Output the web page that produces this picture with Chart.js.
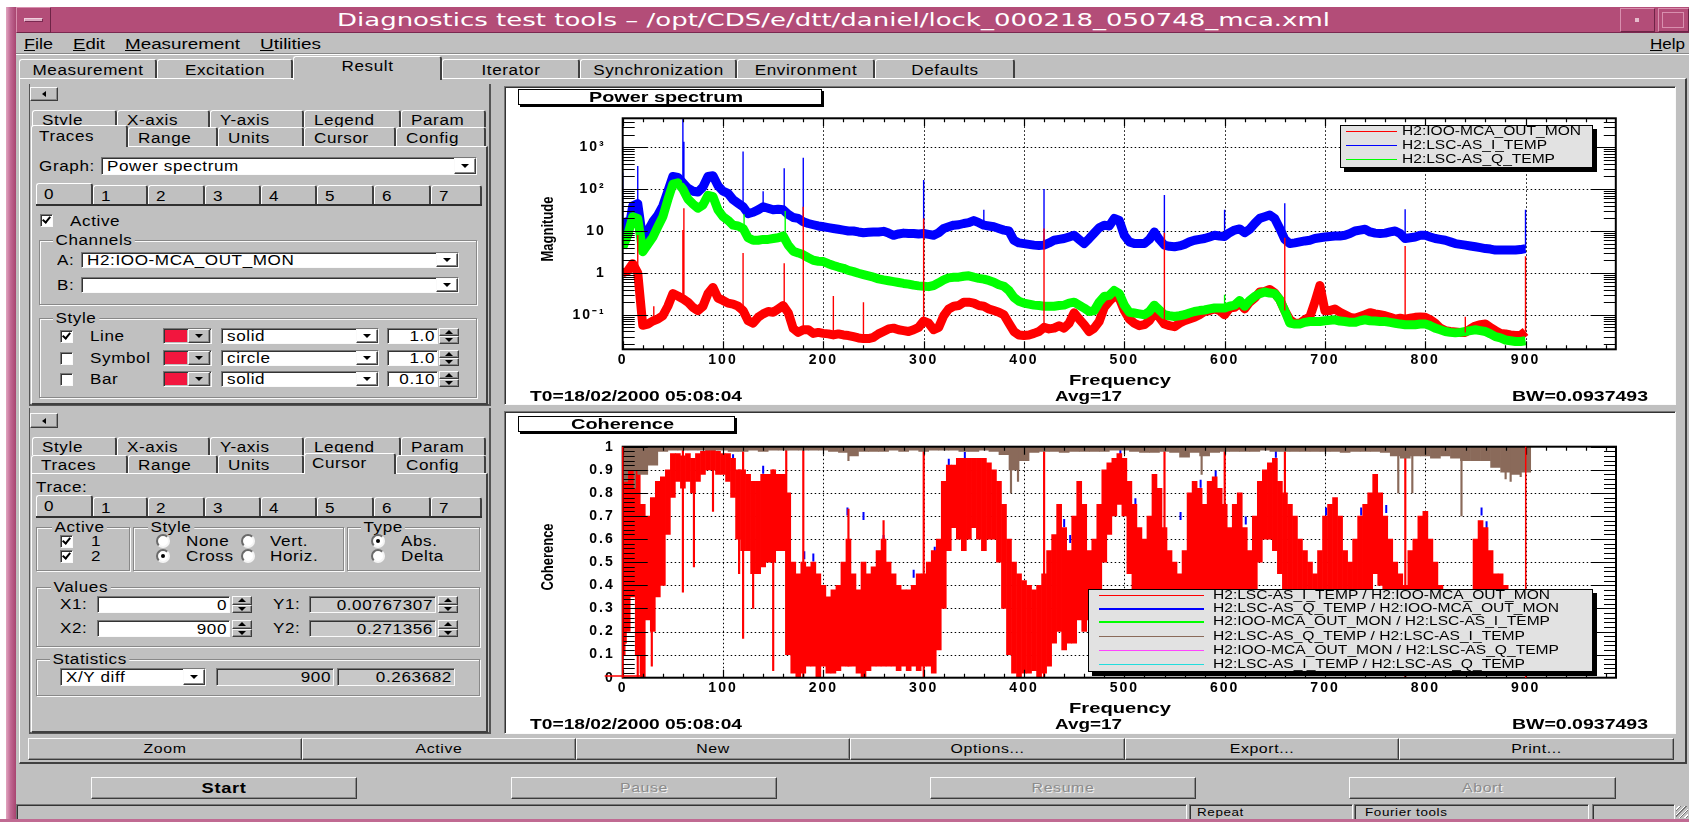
<!DOCTYPE html>
<html><head><meta charset="utf-8"><title>Diagnostics test tools</title>
<script src="https://cdn.jsdelivr.net/npm/chart.js@4.4.1/dist/chart.umd.min.js"></script>
<style>
html,body{margin:0;padding:0}
body{width:1689px;height:822px;position:relative;overflow:hidden;background:#c0c0c0;font:14px "Liberation Sans",Arial,sans-serif;letter-spacing:0.5px;color:#000}
.a{position:absolute;box-sizing:border-box}
.up{border:1px solid;border-color:#fafafa #3c3c3c #3c3c3c #fafafa;box-shadow:inset -1px -1px 0 #8a8a8a}
.dn{border:1px solid;border-color:#777 #fafafa #fafafa #777;box-shadow:inset 1px 1px 0 #333}
.grp{border:1px solid #888;box-shadow:1px 1px 0 #fafafa,inset 1px 1px 0 #fafafa}
.t{position:absolute;white-space:nowrap;line-height:16px;height:16px;transform-origin:left center;transform:scaleX(1.22)}
canvas{position:absolute;z-index:1}
</style></head><body>
<canvas id="psd" width="1171" height="318" style="left:504px;top:87px;width:1171px;height:318px"></canvas>
<canvas id="coh" width="1171" height="321" style="left:504px;top:412px;width:1171px;height:321px"></canvas>
<script>
// ================= DATA =================
// frequency grids (Hz)
const freqs = Array.from({length: 181}, (_, i) => i * 5);
const freqs10 = Array.from({length: 91}, (_, i) => i * 10);
const freqTicks = [0, 100, 200, 300, 400, 500, 600, 700, 800, 900];

// Power spectrum magnitudes (read every 5 Hz, 0..900 Hz)
const psdRed = [
 1.0,1.12,1.66,1.0,0.056,0.06,0.071,0.079,0.095,0.16,
 0.32,0.28,0.24,0.2,0.15,0.126,0.16,0.32,0.45,0.25,
 0.22,0.19,0.18,0.16,0.126,0.072,0.063,0.087,0.105,0.12,
 0.115,0.138,0.166,0.112,0.047,0.038,0.044,0.044,0.036,0.038,
 0.036,0.035,0.033,0.035,0.033,0.032,0.03,0.028,0.027,0.027,
 0.029,0.035,0.04,0.046,0.048,0.044,0.042,0.04,0.044,0.05,
 0.071,0.063,0.044,0.05,0.095,0.138,0.16,0.166,0.2,0.2,
 0.19,0.166,0.16,0.138,0.126,0.115,0.1,0.063,0.04,0.033,
 0.032,0.033,0.036,0.04,0.05,0.046,0.048,0.055,0.048,0.063,
 0.112,0.079,0.058,0.04,0.048,0.069,0.15,0.21,0.275,0.25,
 0.126,0.079,0.063,0.055,0.058,0.072,0.11,0.087,0.06,0.055,
 0.052,0.063,0.072,0.079,0.087,0.1,0.12,0.126,0.138,0.126,
 0.1,0.145,0.15,0.19,0.138,0.2,0.25,0.35,0.36,0.4,
 0.33,0.23,0.126,0.076,0.063,0.063,0.076,0.089,0.2,0.5,
 0.126,0.126,0.138,0.115,0.1,0.087,0.083,0.091,0.1,0.112,
 0.105,0.1,0.095,0.087,0.079,0.083,0.079,0.083,0.087,0.089,
 0.087,0.076,0.063,0.048,0.042,0.04,0.039,0.038,0.038,0.046,
 0.054,0.058,0.06,0.05,0.042,0.036,0.035,0.033,0.032,0.032,
 0.04];
const psdBlue = [
 20,7.9,40,45,6.3,10,16.6,24,40,89,
 200,190,141,105,89,85,112,200,209,120,
 89,79,56,46,38,26,28,32,38,35,
 32,33,32,25,21,20,16.6,15.1,14.1,13.2,
 12.6,12,11.5,11,10.5,10,10,9.5,9.1,9.3,
 9.5,9.5,9.8,8.9,7.9,8.5,8.9,8.7,8.7,8.5,
 8.7,8.3,7.9,9.1,11.5,12.6,13.8,14.1,15.1,15.8,
 17.8,15.8,13.8,13.2,12.6,11.5,10.5,10,6.0,5.2,
 5.0,4.8,4.6,4.5,4.6,5.2,6.0,6.3,6.6,7.2,
 7.9,6.3,5.0,6.6,8.9,12,13.8,13.2,20,17.8,
 7.9,5.5,5.0,5.0,5.0,6.3,9.5,6.3,4.6,4.3,
 4.2,4.4,4.8,5.5,6.0,6.3,6.6,7.2,7.9,7.6,
 7.4,9.1,10.5,11.2,9.1,11,15.1,20,21.9,24,
 20,11.5,6.3,5.0,5.2,5.5,5.8,6.0,6.6,6.9,
 7.2,7.4,7.6,7.6,7.9,8.7,10,10.5,11,9.5,
 8.9,8.7,8.9,9.5,10,8.7,6.6,6.9,7.2,7.9,
 7.9,7.2,6.6,6.3,6.0,5.5,5.0,4.8,4.6,4.4,
 4.2,4.0,3.8,3.7,3.5,3.5,3.5,3.5,3.5,3.6,
 3.8];
const psdGreen = [
 4.0,7.9,22,20,3.2,4.8,7.1,12.6,22,56,
 132,141,100,58,44,35,42,71,66,32,
 22,18,13.8,13.2,11.5,6.9,6.0,6.0,6.3,6.3,
 6.6,6.9,7.6,4.6,3.3,3.0,2.7,2.3,2.0,1.9,
 1.86,1.66,1.5,1.38,1.29,1.15,1.07,0.98,0.91,0.85,
 0.79,0.72,0.68,0.65,0.62,0.59,0.56,0.54,0.51,0.49,
 0.48,0.47,0.5,0.58,0.68,0.76,0.79,0.79,0.83,0.85,
 0.79,0.74,0.71,0.66,0.6,0.52,0.48,0.38,0.26,0.21,
 0.19,0.18,0.17,0.166,0.16,0.16,0.16,0.166,0.17,0.19,
 0.2,0.17,0.145,0.12,0.126,0.2,0.275,0.29,0.38,0.32,
 0.17,0.115,0.11,0.105,0.1,0.12,0.17,0.13,0.1,0.095,
 0.091,0.095,0.1,0.11,0.12,0.126,0.13,0.138,0.145,0.145,
 0.145,0.16,0.17,0.22,0.16,0.22,0.275,0.32,0.35,0.33,
 0.32,0.23,0.126,0.063,0.06,0.06,0.066,0.069,0.069,0.069,
 0.072,0.074,0.076,0.071,0.069,0.066,0.066,0.072,0.076,0.072,
 0.071,0.069,0.069,0.066,0.063,0.06,0.058,0.058,0.058,0.06,
 0.06,0.055,0.048,0.044,0.04,0.038,0.037,0.038,0.04,0.042,
 0.044,0.042,0.04,0.035,0.03,0.028,0.025,0.024,0.023,0.023,
 0.024];
// narrow line peaks (frequency, peak magnitude)
const psdBlueSpikeF = [0, 15, 60, 61, 120, 140, 161, 180, 300, 360, 420, 540, 600, 660, 780, 900];
const psdBlueSpikeV = [250, 355, 5000, 1350, 790, 89, 316, 560, 166, 32, 100, 72, 32, 46, 33, 32];
const psdRedSpikeF = [15, 31, 60, 61, 120, 161, 180, 210, 240, 300, 420, 540, 660, 780, 840, 900];
const psdRedSpikeV = [8, 0.16, 10.5, 35, 3.0, 1.7, 38, 0.28, 0.2, 20, 11.5, 9.1, 6.9, 4.4, 0.09, 2.5];
const psdGreenSpikeF = [121, 162, 600];
const psdGreenSpikeV = [25, 30, 0.3];
const magTicks = [0.1, 1, 10, 100, 1000];
const magTickLabels = ['10\u207B\u00B9', '1', '10', '10\u00B2', '10\u00B3'];

// Coherence: red trace band (upper / lower envelope every 5 Hz)
const cohRedHi = [
 1.0,1.0,1.0,1.0,0.75,0.7,0.78,0.85,0.87,0.9,
 0.97,0.97,0.96,0.97,0.95,0.97,0.98,0.99,0.99,0.98,
 0.97,0.97,0.95,0.9,0.9,0.88,0.85,0.85,0.88,0.88,
 0.9,0.88,0.88,0.8,0.5,0.45,0.5,0.48,0.5,0.45,
 0.4,0.35,0.38,0.4,0.5,0.6,0.45,0.38,0.5,0.45,
 0.48,0.55,0.6,0.5,0.45,0.4,0.38,0.38,0.4,0.45,
 0.45,0.5,0.55,0.6,0.85,0.92,0.92,0.95,0.95,0.95,
 0.95,0.95,0.95,0.93,0.9,0.85,0.75,0.6,0.5,0.45,
 0.42,0.4,0.38,0.4,0.45,0.55,0.62,0.75,0.65,0.55,
 0.7,0.85,0.75,0.55,0.6,0.75,0.9,0.93,0.95,0.97,
 0.95,0.85,0.75,0.65,0.6,0.7,0.88,0.82,0.65,0.55,
 0.5,0.45,0.55,0.8,0.85,0.82,0.75,0.85,0.87,0.82,
 0.75,0.65,0.75,0.8,0.65,0.55,0.7,0.85,0.9,0.93,
 0.95,0.85,0.8,0.75,0.7,0.6,0.55,0.5,0.45,0.55,
 0.7,0.75,0.78,0.7,0.55,0.5,0.6,0.7,0.75,0.8,
 0.88,0.8,0.7,0.6,0.5,0.45,0.4,0.55,0.6,0.7,
 0.72,0.6,0.5,0.4,0.35,0.3,0.28,0.25,0.3,0.35,
 0.6,0.68,0.65,0.55,0.45,0.45,0.4,0.3,0.2,0.15,
 0.1];
const cohRedLo = [
 0.1,0.2,0.35,0.1,0.0,0.25,0.2,0.35,0.4,0.62,
 0.78,0.85,0.82,0.85,0.8,0.85,0.88,0.9,0.9,0.88,
 0.88,0.85,0.78,0.6,0.55,0.55,0.45,0.45,0.48,0.5,
 0.5,0.55,0.55,0.1,0.02,0.0,0.02,0.05,0.05,0.0,
 0.05,0.02,0.02,0.03,0.05,0.05,0.05,0.02,0.0,0.03,
 0.05,0.05,0.05,0.05,0.05,0.03,0.05,0.03,0.05,0.03,
 0.05,0.05,0.02,0.12,0.3,0.55,0.65,0.6,0.55,0.6,
 0.65,0.6,0.55,0.6,0.6,0.5,0.3,0.1,0.02,0.0,
 0.02,0.02,0.03,0.0,0.02,0.05,0.15,0.2,0.12,0.15,
 0.15,0.25,0.2,0.25,0.1,0.3,0.5,0.62,0.7,0.75,
 0.7,0.45,0.3,0.2,0.15,0.2,0.3,0.35,0.2,0.15,
 0.12,0.1,0.12,0.3,0.35,0.25,0.2,0.3,0.3,0.2,
 0.12,0.1,0.2,0.3,0.15,0.1,0.25,0.5,0.6,0.6,
 0.55,0.45,0.35,0.3,0.2,0.15,0.1,0.05,0.03,0.05,
 0.2,0.3,0.25,0.2,0.1,0.05,0.1,0.2,0.3,0.35,
 0.45,0.4,0.3,0.2,0.1,0.05,0.02,0.1,0.15,0.2,
 0.2,0.1,0.05,0.02,0.02,0.02,0.02,0.02,0.02,0.03,
 0.1,0.2,0.2,0.1,0.05,0.03,0.02,0.02,0.01,0.01,
 0.01];
// narrow red lines (frequency, low end, high end)
const cohSpikeF  = [3, 15, 18, 29, 60, 71, 90, 116, 120, 130, 150, 163, 180, 225, 260, 300, 420, 540, 600, 660, 780];
const cohSpikeLo = [0.15, 0.0, 0.02, 0.05, 0.37, 0.48, 0.72, 0.45, 0.17, 0.3, 0.03, 0.1, 0.0, 0.05, 0.1, 0.0, 0.0, 0.05, 0.05, 0.1, 0.0];
const cohSpikeHi = [1.0, 0.4, 0.7, 0.4, 1.0, 0.95, 0.99, 0.9, 1.0, 0.85, 0.9, 1.0, 1.0, 0.73, 0.68, 1.0, 1.0, 1.0, 1.0, 1.0, 1.0];
// blue trace: visible peaks above the red trace
const cohBlueF = [5, 9, 14, 45, 110, 121, 140, 181, 190, 224, 240, 260, 290, 311, 325, 341, 440, 446, 496, 511, 556, 576, 591, 621, 651, 701, 736, 761, 856, 861];
const cohBlueV = [0.95, 0.9, 0.82, 0.88, 0.95, 0.88, 0.9, 0.53, 0.52, 0.72, 0.7, 0.6, 0.45, 0.55, 0.93, 0.96, 0.67, 0.6, 0.98, 0.76, 0.7, 0.84, 0.88, 0.68, 0.97, 0.72, 0.72, 0.73, 0.72, 0.66];
// brown trace: lower edge every 10 Hz (upper edge at coherence 1)
const cohMax = 1;
const cohBrownLo = [
 0.85,0.9,0.88,0.92,0.98,0.985,0.985,0.985,0.985,0.985,
 0.985,0.98,0.98,0.985,0.98,0.985,0.985,0.985,0.985,0.985,
 0.985,0.98,0.975,0.96,0.98,0.98,0.98,0.985,0.98,0.985,
 0.98,0.985,0.985,0.985,0.98,0.98,0.985,0.98,0.965,0.9,
 0.94,0.975,0.98,0.98,0.975,0.98,0.98,0.98,0.98,0.985,
 0.985,0.98,0.975,0.975,0.98,0.975,0.955,0.975,0.96,0.975,
 0.98,0.98,0.98,0.98,0.985,0.98,0.98,0.98,0.98,0.98,
 0.98,0.98,0.975,0.98,0.98,0.98,0.975,0.96,0.95,0.96,
 0.96,0.95,0.96,0.95,0.94,0.94,0.94,0.91,0.89,0.88,
 0.89];
const cohBrownDipF  = [12, 225, 387, 394, 577, 773, 787, 836, 880, 885, 895];
const cohBrownDipLo = [0.82, 0.94, 0.8, 0.85, 0.88, 0.8, 0.8, 0.7, 0.86, 0.85, 0.87];
const cohTicks = [0, 0.1, 0.2, 0.3, 0.4, 0.5, 0.6, 0.7, 0.8, 0.9, 1];
const cohTickLabels = ['0', '0.1', '0.2', '0.3', '0.4', '0.5', '0.6', '0.7', '0.8', '0.9', '1'];
// cursor positions (from the Cursor panel)
const cursorX = [0, 900];
const cursorY = [0.00767307, 0.271356];

// ================= GUI CHROME =================
const B = document.body;
function el(cls, x, y, w, h, css, z) {
  const d = document.createElement('div');
  d.className = 'a ' + (cls || '');
  d.style.left = x + 'px'; d.style.top = y + 'px'; d.style.width = w + 'px'; d.style.height = h + 'px';
  if (z) d.style.zIndex = z;
  Object.assign(d.style, css || {});
  B.appendChild(d); return d;
}
// stretch a text horizontally so that it spans w pixels (the reference is a widened screen capture)
function fit(d, w) {
  d.style.letterSpacing = '0px';
  d.style.transform = 'none';
  const w0 = d.getBoundingClientRect().width;
  d.style.transformOrigin = 'left center';
  d.style.transform = 'scaleX(' + (w / w0) + ')';
}
function txt(s, x, yc, css, fw, z, html) {
  const d = document.createElement('div'); d.className = 't';
  if (html) d.innerHTML = html; else d.textContent = s;
  d.style.left = x + 'px'; d.style.top = (yc - 8) + 'px';
  if (z) d.style.zIndex = z;
  Object.assign(d.style, css || {}); B.appendChild(d);
  if (fw) fit(d, fw);
  return d;
}
function ctxt(s, x1, x2, yc, css, z) {
  return txt(s, x1, yc, Object.assign({width: (x2 - x1) + 'px', textAlign: 'center', transformOrigin: 'center center'}, css || {}), 0, z);
}
function rtxt(s, xr, yc, css) {
  return txt(s, xr - 200, yc, Object.assign({width: '200px', textAlign: 'right', transformOrigin: 'right center'}, css || {}));
}
function tri(cx, cy, dir) {
  const s = {boxSizing: 'content-box', width: '0px', height: '0px'};
  if (dir === 'down') Object.assign(s, {borderLeft: '4px solid transparent', borderRight: '4px solid transparent', borderTop: '4px solid #000'});
  if (dir === 'up') Object.assign(s, {borderLeft: '4px solid transparent', borderRight: '4px solid transparent', borderBottom: '4px solid #000'});
  if (dir === 'left') Object.assign(s, {borderTop: '3px solid transparent', borderBottom: '3px solid transparent', borderRight: '4px solid #000'});
  const d = el('', 0, 0, 0, 0, s);
  if (dir === 'left') { d.style.left = (cx - 2) + 'px'; d.style.top = (cy - 3) + 'px'; }
  else { d.style.left = (cx - 4) + 'px'; d.style.top = (cy - 2) + 'px'; }
}
function ddbtn(x, y, w, h) { el('up', x, y, w, h); tri(x + w / 2, y + h / 2, 'down'); }
function combo(x1, x2, y1, y2, text, bg) {
  el('dn', x1, y1, x2 - x1, y2 - y1, {background: bg || '#fff'});
  if (text) txt(text, x1 + 6, (y1 + y2) / 2);
  ddbtn(x2 - 23, y1 + 1, 22, y2 - y1 - 2);
}
function spin(x, y1, y2) {
  const h = (y2 - y1) / 2;
  el('up', x, y1, 20, h); tri(x + 10, y1 + h / 2, 'up');
  el('up', x, y1 + h, 20, h); tri(x + 10, y1 + h + h / 2, 'down');
}
function checkbox(x, yc, on) {
  el('dn', x, yc - 6.5, 13, 13, {background: '#fff'});
  if (on) el('', x + 4, yc - 5.5, 5, 8, {borderRight: '2px solid #000', borderBottom: '2px solid #000', transform: 'rotate(40deg)'});
}
function radio(x, yc, on) {
  el('', x, yc - 7, 14, 14, {borderRadius: '50%', background: '#fff', border: '2px solid', borderColor: '#6a6a6a #f4f4f4 #f4f4f4 #6a6a6a'});
  if (on) el('', x + 5, yc - 2, 4, 4, {borderRadius: '50%', background: '#000'});
}
function group(x, y, w, h, label, lx) {
  el('grp', x, y, w, h);
  txt(label, lx, y, {background: '#c0c0c0', padding: '0 2px'});
}
function btn(x1, x2, y1, y2, label, css) {
  el('up', x1, y1, x2 - x1, y2 - y1);
  ctxt(label, x1, x2, (y1 + y2) / 2, css);
}
const tabCss = {borderTop: '1px solid #fff', borderLeft: '1px solid #fff', borderRight: '2px solid #404040', borderRadius: '3px 3px 0 0'};

// window frame & title bar
el('', 0, 0, 1689, 7, {background: '#fff'});
el('', 0, 0, 6, 822, {background: '#fff'});
el('', 6, 7, 10, 815, {background: 'linear-gradient(90deg,#e2a6c0 0,#c06892 45%,#a84470 100%)'});
el('', 16, 7, 1673, 26, {background: '#b34d78', borderBottom: '1px solid #7a2850'});
el('', 16, 7, 35, 26, {border: '1px solid', borderColor: '#d88fae #6e2446 #6e2446 #d88fae'});
el('', 24, 18, 19, 4, {background: '#dca6bf', border: '1px solid', borderColor: '#f0d0de #7a2850 #7a2850 #f0d0de'});
txt('Diagnostics test tools \u2013 /opt/CDS/e/dtt/daniel/lock_000218_050748_mca.xml', 337, 20,
    {font: '18px "DejaVu Sans",sans-serif', color: '#fff', lineHeight: '22px', height: '22px', top: '9px'}, 993);
el('', 1620, 8, 35, 24, {border: '1px solid', borderColor: '#d88fae #6e2446 #6e2446 #d88fae'});
el('', 1635, 18, 4, 4, {background: '#e6bccd'});
el('', 1658, 8, 31, 24, {border: '1px solid', borderColor: '#d88fae #6e2446 #6e2446 #d88fae'});
el('', 1662, 12, 22, 16, {border: '1px solid #d88fae'});

// menu bar
[['File', 24, 29, '<u>F</u>ile'], ['Edit', 73, 32, '<u>E</u>dit'], ['Measurement', 125, 115, '<u>M</u>easurement'],
 ['Utilities', 260, 61, '<u>U</u>tilities'], ['Help', 1650, 35, '<u>H</u>elp']].forEach(m => txt(m[0], m[1], 44, null, m[2], 0, m[3]));
el('', 16, 53, 1673, 2, {borderTop: '1px solid #888', borderBottom: '1px solid #fff'});

// main notebook frame + tabs
el('', 19, 78, 1668, 686, {borderTop: '1px solid #fff', borderLeft: '1px solid #fff', borderRight: '2px solid #404040', borderBottom: '2px solid #404040'});
const topTabs = ['Measurement', 'Excitation', 'Result', 'Iterator', 'Synchronization', 'Environment', 'Defaults'];
const topEdges = [19, 157, 293, 442, 580, 737, 875, 1015];
topTabs.forEach((s, i) => {
  const sel = i === 2, x1 = topEdges[i], x2 = topEdges[i + 1];
  if (sel) el('', x1, 56, x2 - x1, 24, Object.assign({background: '#c0c0c0'}, tabCss));
  else el('', x1, 59, x2 - x1, 19, tabCss);
  ctxt(s, x1, x2, sel ? 66 : 69.5);
});

// left column frames
el('', 29, 84, 462, 322, {borderLeft: '1px solid #555', borderRight: '2px solid #555', borderBottom: '2px solid #555'});
el('', 29, 408, 462, 326, {borderLeft: '1px solid #555', borderRight: '2px solid #555', borderBottom: '2px solid #555'});

function subTabs(yA, yB, yC, bottom, sel) {
  const r1 = ['Style', 'X-axis', 'Y-axis', 'Legend', 'Param'], e1 = [32, 117, 210, 304, 401, 486];
  const r2 = ['Traces', 'Range', 'Units', 'Cursor', 'Config'], e2 = [31, 128, 218, 304, 396, 486];
  el('', 31, yC, 457, bottom - yC, {borderTop: '1px solid #fff', borderLeft: '1px solid #fff', borderRight: '2px solid #404040', borderBottom: '2px solid #404040'});
  r1.forEach((s, i) => { el('', e1[i], yA, e1[i + 1] - e1[i], yB - yA, tabCss); txt(s, e1[i] + 10, (yA + yB) / 2 + 1); });
  r2.forEach((s, i) => { if (i !== sel) { el('', e2[i], yB, e2[i + 1] - e2[i], yC - yB, tabCss); txt(s, e2[i] + 10, (yB + yC) / 2 + 1); } });
  el('', e2[sel], yB - 2, e2[sel + 1] - e2[sel], yC - yB + 3, Object.assign({background: '#c0c0c0'}, tabCss));
  txt(r2[sel], e2[sel] + 8, (yB + yC) / 2 - 1);
}
function traceTabs(y1, y2) {
  const e = [36, 93, 148, 205, 261, 317, 374, 431, 482];
  for (let i = 0; i < 8; i++) {
    const sel = i === 0;
    el('', e[i], sel ? y1 - 2 : y1, e[i + 1] - e[i], sel ? y2 - y1 + 2 : y2 - y1, tabCss);
    txt(String(i), e[i] + 8, (y1 + y2) / 2 + (sel ? -1 : 1));
  }
  el('', 36, y2 - 1, 446, 2, {background: '#303030'});
}

// ---- upper left panel (Traces)
el('up', 30, 87, 28, 14); tri(44, 94, 'left');
subTabs(110, 127, 146, 405, 0);
txt('Graph:', 39, 166);
combo(101, 477, 157, 175, 'Power spectrum');
traceTabs(185, 205);
checkbox(40, 220.5, true); txt('Active', 70, 221);
group(39, 240, 438, 65, 'Channels', 53);
txt('A:', 57, 260); combo(81, 459, 252, 268, 'H2:IOO-MCA_OUT_MON');
txt('B:', 57, 285); combo(81, 459, 277, 293, '');
group(39, 318, 438, 80, 'Style', 53);
[['Line', 'solid', '1.0', true, 336], ['Symbol', 'circle', '1.0', false, 358], ['Bar', 'solid', '0.10', false, 379]].forEach(r => {
  const yc = r[4];
  checkbox(60, yc, r[3]); txt(r[0], 90, yc);
  el('dn', 163, yc - 8, 49, 16, {background: '#c0c0c0'});
  el('', 165, yc - 6, 22, 12, {background: '#f2163e'});
  ddbtn(188, yc - 7, 22, 14);
  combo(221, 379, yc - 8, yc + 8, r[1]);
  el('dn', 387, yc - 8, 51, 16, {background: '#fff'}); rtxt(r[2], 435, yc);
  spin(439, yc - 8, yc + 8);
});

// ---- lower left panel (Cursor)
el('up', 30, 413, 28, 15); tri(44, 420.5, 'left');
subTabs(437, 455, 473, 733, 3);
txt('Trace:', 36, 487);
traceTabs(497, 517);
group(36, 527, 94, 44, 'Active', 52);
checkbox(60, 541, true); txt('1', 91, 541);
checkbox(60, 556, true); txt('2', 91, 556);
group(133, 527, 211, 44, 'Style', 148);
radio(156, 541, false); txt('None', 186, 541); radio(241, 541, false); txt('Vert.', 270, 541);
radio(156, 556, true); txt('Cross', 186, 556); radio(241, 556, false); txt('Horiz.', 270, 556);
group(347, 527, 133, 44, 'Type', 361);
radio(371, 541, true); txt('Abs.', 401, 541);
radio(371, 556, false); txt('Delta', 401, 556);
group(36, 587, 444, 60, 'Values', 51);
txt('X1:', 60, 604); el('dn', 97, 596, 133, 17, {background: '#fff'}); rtxt('0', 227, 604.5); spin(232, 596, 613);
txt('Y1:', 273, 604); el('dn', 309, 596, 127, 17, {background: '#c8c8c8'}); rtxt('0.00767307', 433, 604.5); spin(438, 596, 613);
txt('X2:', 60, 628); el('dn', 97, 620, 133, 17, {background: '#fff'}); rtxt('900', 227, 628.5); spin(232, 620, 637);
txt('Y2:', 273, 628); el('dn', 309, 620, 127, 17, {background: '#c8c8c8'}); rtxt('0.271356', 433, 628.5); spin(438, 620, 637);
group(36, 659, 444, 37, 'Statistics', 50);
combo(60, 206, 668, 686, 'X/Y diff');
el('dn', 216, 668, 118, 18, {background: '#c8c8c8'}); rtxt('900', 331, 677);
el('dn', 337, 668, 118, 18, {background: '#c8c8c8'}); rtxt('0.263682', 452, 677);

// ---- right graph panels
el('dn', 504, 86, 1172, 319, {background: '#fff'});
el('dn', 504, 411, 1172, 323, {background: '#fff'});
const bold14 = {font: 'bold 14px "Liberation Sans",Arial,sans-serif'};
function panelTexts(title, bx1, bx2, by, tw, ylab, ylabY, y0) {
  el('', bx1, by, bx2 - bx1, 16, {background: '#fff', border: '1px solid #000', boxShadow: '2px 2px 0 #000'}, 2);
  txt(title, (bx1 + bx2) / 2 - tw / 2 - 4, by + 8, bold14, tw, 3);
  txt(ylab, 547, ylabY, {font: 'bold 13px "Liberation Sans",Arial,sans-serif', letterSpacing: '0px', transformOrigin: 'center center',
      transform: 'translate(-50%,-50%) rotate(-90deg) scaleY(1.3)', top: ylabY + 'px', lineHeight: '15px', height: '15px'}, 0, 3);
  txt('Frequency', 1120 - 51, y0, bold14, 102, 3);
  txt('T0=18/02/2000 05:08:04', 530, y0 + 16, bold14, 212, 3);
  txt('Avg=17', 1055, y0 + 16, bold14, 67, 3);
  txt('BW=0.0937493', 1512, y0 + 16, bold14, 136, 3);
}
panelTexts('Power spectrum', 518, 822, 89, 154, 'Magnitude', 229, 380);
panelTexts('Coherence', 518, 735, 416, 103, 'Coherence', 557, 707.5);

function legend(x1, x2, y1, y2, rows) {
  el('', x1, y1, x2 - x1, y2 - y1, {background: '#e2e2e2', border: '1px solid #000', boxShadow: '4px 4px 0 #000'}, 2);
  rows.forEach(r => {
    el('', r.lx1, r.y - 0.75, r.lx2 - r.lx1, 1.5, {background: r.c}, 3);
    txt(r.s, r.tx, r.y, {font: '12px "Liberation Sans",Arial,sans-serif'}, r.w, 3);
  });
}
legend(1340, 1593, 125, 168, [
  {s: 'H2:IOO-MCA_OUT_MON', c: '#ff0000', y: 131.5, lx1: 1346, lx2: 1397, tx: 1402, w: 179},
  {s: 'H2:LSC-AS_I_TEMP', c: '#0000ff', y: 145.5, lx1: 1346, lx2: 1397, tx: 1402, w: 145},
  {s: 'H2:LSC-AS_Q_TEMP', c: '#00ff00', y: 159.5, lx1: 1346, lx2: 1397, tx: 1402, w: 153}]);
legend(1088, 1593, 589, 672, [
  {s: 'H2:LSC-AS_I_TEMP / H2:IOO-MCA_OUT_MON', c: '#ff0000', y: 595.5, lx1: 1099, lx2: 1204, tx: 1213, w: 337},
  {s: 'H2:LSC-AS_Q_TEMP / H2:IOO-MCA_OUT_MON', c: '#0000ff', y: 609, lx1: 1099, lx2: 1204, tx: 1213, w: 346},
  {s: 'H2:IOO-MCA_OUT_MON / H2:LSC-AS_I_TEMP', c: '#00ff00', y: 622, lx1: 1099, lx2: 1204, tx: 1213, w: 337},
  {s: 'H2:LSC-AS_Q_TEMP / H2:LSC-AS_I_TEMP', c: '#8a6a5a', y: 636.5, lx1: 1099, lx2: 1204, tx: 1213, w: 312},
  {s: 'H2:IOO-MCA_OUT_MON / H2:LSC-AS_Q_TEMP', c: '#ff44ff', y: 650.5, lx1: 1099, lx2: 1204, tx: 1213, w: 346},
  {s: 'H2:LSC-AS_I_TEMP / H2:LSC-AS_Q_TEMP', c: '#22dddd', y: 664.5, lx1: 1099, lx2: 1204, tx: 1213, w: 312}]);

// ---- bottom buttons, status bar
const bEdges = [28, 302, 576, 850, 1125, 1399, 1674];
['Zoom', 'Active', 'New', 'Options...', 'Export...', 'Print...'].forEach((s, i) => btn(bEdges[i], bEdges[i + 1], 738, 760, s, {fontSize: '13px'}));
const dis = {color: '#8c8c8c', textShadow: '1px 1px 0 #f0f0f0', fontSize: '13px'};
btn(91, 357, 777, 799, 'Start', {fontWeight: 'bold', fontSize: '15px'});
btn(511, 777, 777, 799, 'Pause', dis);
btn(930, 1196, 777, 799, 'Resume', dis);
btn(1349, 1616, 777, 799, 'Abort', dis);
const sb = {fontSize: '11px'};
el('dn', 16, 804, 1171, 16);
el('dn', 1189, 804, 164, 16); txt('Repeat', 1197, 812, sb);
el('dn', 1354, 804, 235, 16); txt('Fourier tools', 1365, 812, sb);
el('dn', 1592, 804, 83, 16);
el('', 1676, 806, 12, 12, {background: 'repeating-linear-gradient(135deg,#c0c0c0 0 2px,#fff 2px 3px,#777 3px 4px)'});
el('', 0, 819, 1689, 3, {background: '#c06a92'});

// ================= CHARTS =================
Chart.defaults.font.family = '"Liberation Sans", Arial, sans-serif';
Chart.defaults.color = '#000';
const tickFont = {family: '"Liberation Sans", Arial, sans-serif', size: 14, weight: 'bold'};

function frame(cfg) {
  return {
    id: 'rootFrame',
    beforeDraw(chart) { chart.ctx.letterSpacing = '2px'; },
    beforeDatasetsDraw(chart) {
      const {ctx, chartArea: a, scales: {x, y}} = chart;
      ctx.save();
      ctx.strokeStyle = '#000'; ctx.lineWidth = 1; ctx.setLineDash([1.5, 2.5]);
      ctx.beginPath();
      x.ticks.forEach(t => { const p = Math.round(x.getPixelForValue(t.value)) + 0.5; if (p > a.left + 3 && p < a.right - 3) { ctx.moveTo(p, a.top); ctx.lineTo(p, a.bottom); } });
      y.ticks.forEach(t => { const p = Math.round(y.getPixelForValue(t.value)) + 0.5; if (p > a.top + 3 && p < a.bottom - 3) { ctx.moveTo(a.left, p); ctx.lineTo(a.right, p); } });
      ctx.stroke(); ctx.restore();
    },
    afterDatasetsDraw(chart) {
      const {ctx, chartArea: a, scales: {x, y}} = chart;
      ctx.save(); ctx.strokeStyle = '#000'; ctx.lineWidth = 1.2; ctx.beginPath();
      for (let v = x.min; v <= x.max + 1e-9; v += cfg.xMinor) {
        const p = Math.round(x.getPixelForValue(v)) + 0.5;
        const len = (Math.abs(v % cfg.xMajor) < 1e-9) ? 8 : 4;
        ctx.moveTo(p, a.bottom); ctx.lineTo(p, a.bottom - len);
        ctx.moveTo(p, a.top); ctx.lineTo(p, a.top + len);
      }
      const tickY = (v, len) => {
        const p = Math.round(y.getPixelForValue(v)) + 0.5;
        if (p < a.top || p > a.bottom) return;
        ctx.moveTo(a.left, p); ctx.lineTo(a.left + len, p);
        ctx.moveTo(a.right, p); ctx.lineTo(a.right - len, p);
      };
      cfg.yMinor.forEach(v => tickY(v, 12));
      cfg.yMajor.forEach(v => tickY(v, 25));
      ctx.stroke();
      ctx.lineWidth = 2; ctx.strokeRect(a.left, a.top, a.right - a.left, a.bottom - a.top);
      if (cfg.cursorX) {
        ctx.strokeStyle = '#ff0000'; ctx.lineWidth = 1.5; ctx.beginPath();
        cfg.cursorX.forEach((cx, i) => {
          const px = x.getPixelForValue(cx), py = y.getPixelForValue(cfg.cursorY[i]);
          ctx.moveTo(px, a.top); ctx.lineTo(px, a.bottom);
          ctx.moveTo(px - 18, py); ctx.lineTo(px + 18, py);
        });
        ctx.stroke();
      }
      ctx.restore();
    }
  };
}
function xScale() {
  return {
    type: 'linear', min: 0, max: 990, offset: false,
    grid: {display: false, drawTicks: false}, border: {display: false},
    ticks: {font: tickFont, color: '#000', padding: 2, autoSkip: false, maxRotation: 0, stepSize: 100, callback: v => String(v)},
    afterBuildTicks: s => { s.ticks = freqTicks.map(v => ({value: v})); },
    afterFit: s => { s.height = 30; }
  };
}

// Power spectrum
const line = vals => freqs.map((f, i) => ({x: f, y: vals[i]}));
function spikes(F, V, band) {
  const out = [];
  F.forEach((f, i) => { out.push({x: f, y: band[Math.round(f / 5)]}, {x: f, y: V[i]}, {x: f, y: null}); });
  return out;
}
const logMinor = [];
[0.01, 0.1, 1, 10, 100, 1000].forEach(d => { for (let m = 2; m <= 9; m++) logMinor.push(m * d); });
const band = (label, data, color, order) => ({label, data, borderColor: color, borderWidth: 9, order, clip: 0, spanGaps: false});
const spk = (label, data, color, order) => ({label, data, borderColor: color, borderWidth: 1.4, order, clip: 0, borderCapStyle: 'butt', spanGaps: false});
new Chart(document.getElementById('psd'), {
  type: 'line',
  data: {datasets: [
    spk('H2:IOO-MCA_OUT_MON lines', spikes(psdRedSpikeF, psdRedSpikeV, psdRed), '#ff0000', 0),
    spk('H2:LSC-AS_Q_TEMP lines', spikes(psdGreenSpikeF, psdGreenSpikeV, psdGreen), '#00ff00', 1),
    spk('H2:LSC-AS_I_TEMP lines', spikes(psdBlueSpikeF, psdBlueSpikeV, psdBlue), '#0000ff', 1),
    band('H2:LSC-AS_Q_TEMP', line(psdGreen), '#00ff00', 2),
    band('H2:IOO-MCA_OUT_MON', line(psdRed), '#ff0000', 3),
    band('H2:LSC-AS_I_TEMP', line(psdBlue), '#0000ff', 4)
  ]},
  options: {
    responsive: false, animation: false, events: [], devicePixelRatio: 1,
    elements: {point: {radius: 0}, line: {tension: 0, borderJoinStyle: 'round'}},
    layout: {padding: {left: 0, right: 59.2, top: 31.3, bottom: 25.7}},
    plugins: {legend: {display: false}, tooltip: {enabled: false}},
    scales: {
      x: xScale(),
      y: {
        type: 'logarithmic', min: 0.015, max: 4900,
        grid: {display: false, drawTicks: false}, border: {display: false},
        ticks: {font: tickFont, color: '#000', padding: 17, autoSkip: false,
                callback: v => { const i = magTicks.indexOf(v); return i < 0 ? '' : magTickLabels[i]; }},
        afterBuildTicks: s => { s.ticks = magTicks.map(v => ({value: v})); },
        afterFit: s => { s.width = 118.7; }
      }
    }
  },
  plugins: [frame({xMinor: 20, xMajor: 100, yMinor: logMinor, yMajor: magTicks})]
});

// Coherence
const cohMinor = Array.from({length: 51}, (_, i) => i * 0.02);
new Chart(document.getElementById('coh'), {
  type: 'line',
  data: {datasets: [
    {type: 'bar', label: 'H2:LSC-AS_Q_TEMP / H2:LSC-AS_I_TEMP', data: freqs10.map((f, i) => ({x: f, y: [cohBrownLo[i], cohMax]})),
     backgroundColor: '#8a6a5a', barThickness: 10, stack: 's', order: 1, clip: 0},
    {type: 'bar', label: 'H2:LSC-AS_Q_TEMP / H2:LSC-AS_I_TEMP dips', data: cohBrownDipF.map((f, i) => ({x: f, y: [cohBrownDipLo[i], cohMax]})),
     backgroundColor: '#8a6a5a', barThickness: 1.5, stack: 's', order: 1, clip: 0},
    {type: 'bar', label: 'H2:LSC-AS_I_TEMP / H2:IOO-MCA_OUT_MON lines', data: cohSpikeF.map((f, i) => ({x: f, y: [cohSpikeLo[i], cohSpikeHi[i]]})),
     backgroundColor: '#ff0000', barThickness: 1.5, stack: 's', order: 2, clip: 0},
    {type: 'bar', label: 'H2:LSC-AS_I_TEMP / H2:IOO-MCA_OUT_MON', data: freqs.map((f, i) => ({x: f, y: [cohRedLo[i], cohRedHi[i]]})),
     backgroundColor: '#ff0000', barThickness: 5, stack: 's', order: 3, clip: 0},
    {type: 'line', label: 'H2:LSC-AS_Q_TEMP / H2:IOO-MCA_OUT_MON', data: cohBlueF.map((f, i) => ({x: f, y: cohBlueV[i]})),
     showLine: false, pointStyle: 'line', rotation: 90, pointRadius: 4, pointBorderWidth: 2, borderColor: '#0000ff', order: 4, clip: 0}
  ]},
  options: {
    responsive: false, animation: false, events: [], devicePixelRatio: 1,
    layout: {padding: {left: 0, right: 59, top: 34.7, bottom: 25.3}},
    plugins: {legend: {display: false}, tooltip: {enabled: false}},
    scales: {
      x: xScale(),
      y: {
        type: 'linear', min: 0, max: 1, stacked: false,
        grid: {display: false, drawTicks: false}, border: {display: false},
        ticks: {font: tickFont, color: '#000', padding: 8, autoSkip: false,
                callback: v => { const i = cohTicks.findIndex(t => Math.abs(t - v) < 1e-9); return i < 0 ? '' : cohTickLabels[i]; }},
        afterBuildTicks: s => { s.ticks = cohTicks.map(v => ({value: v})); },
        afterFit: s => { s.width = 118.7; }
      }
    }
  },
  plugins: [frame({xMinor: 20, xMajor: 100, yMinor: cohMinor, yMajor: cohTicks, cursorX, cursorY})]
});
</script>
</body></html>
